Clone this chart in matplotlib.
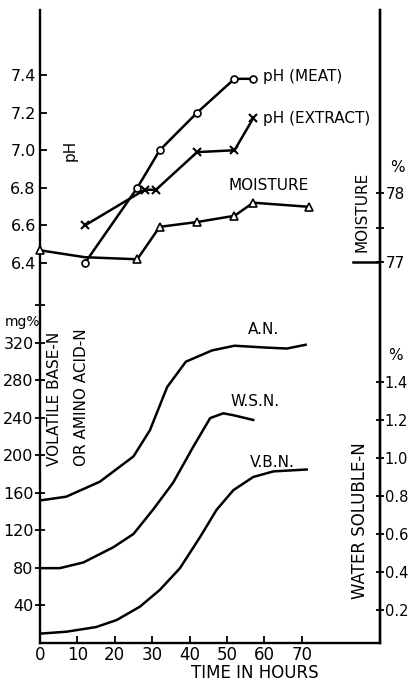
import matplotlib
matplotlib.use("Agg")
import matplotlib.pyplot as plt

# upper panel: pH and moisture
ph_hours = [12, 26, 32, 42, 52, 57]
ph_meat = [6.40, 6.80, 7.00, 7.20, 7.38, 7.38]
ext_hours = [12, 28, 31, 42, 52, 57]
ph_extract = [6.60, 6.79, 6.79, 6.99, 7.00, 7.17]
moist_hours = [0, 12, 26, 32, 42, 52, 57, 72]
moisture = [77.17, 77.07, 77.04, 77.51, 77.58, 77.67, 77.86, 77.80]

# lower panel: nitrogen (mg%) and water soluble-N (%)
an_hours = [0, 7, 16, 25, 29.4, 34, 39, 46, 52, 60.5, 66, 71]
an_vals = [152, 156, 172, 199, 227, 273, 300, 312, 317, 315, 314, 318]
wsn_hours = [0, 5.3, 11.6, 19.6, 25, 30.3, 35.6, 41, 45.5, 49, 51.7, 57]
wsn_vals = [0.42, 0.42, 0.45, 0.53, 0.60, 0.73, 0.87, 1.06, 1.21, 1.235, 1.225, 1.20]
vbn_hours = [0, 7, 15, 20.5, 26.7, 32, 37.4, 42.8, 47.2, 51.7, 57, 62.4, 71.3]
vbn_vals = [10, 12, 17, 24.5, 38.7, 56.5, 79.7, 113, 142, 163, 177, 183, 185]

x_ticks = [0, 10, 20, 30, 40, 50, 60, 70]
mg_ticks = [40, 80, 120, 160, 200, 240, 280, 320, 360]
wsn_ticks = [0.2, 0.4, 0.6, 0.8, 1.0, 1.2, 1.4]
ph_ticks = [6.4, 6.6, 6.8, 7.0, 7.2, 7.4]
moist_ticks = [77, 77.5, 78]

plt.rcParams['font.family'] = ['DejaVu Sans']
fig = plt.figure(figsize=(4.1, 6.86), dpi=100)
rect = [40 / 410, 43 / 686, 340 / 410, 633 / 686]
LW = 1.8

# main axes (mg%)
ax = fig.add_axes(rect)
ax.set_xlim(0, 90.9)
ax.set_ylim(0, 675)
for s in ['left', 'bottom', 'right']:
    ax.spines[s].set_linewidth(1.7)
ax.spines['top'].set_visible(False)
ax.set_xticks(x_ticks)
ax.set_xticklabels([str(t) for t in x_ticks], fontsize=12)
ax.set_yticks(mg_ticks)
ax.set_yticklabels([str(t) if t <= 320 else '' for t in mg_ticks], fontsize=11.5)
ax.tick_params(axis='x', direction='in', length=5, width=1.3, pad=2)
ax.tick_params(axis='y', direction='inout', length=7, width=1.3, pad=1)

ax.plot(an_hours, an_vals, color='black', lw=LW)
ax.plot(vbn_hours, vbn_vals, color='black', lw=LW)

# water soluble-N axis on the right
ax_w = ax.twinx()
ax_w.set_ylim(0.026, 3.358)
for s in ['left', 'bottom', 'top']:
    ax_w.spines[s].set_visible(False)
ax_w.spines['right'].set_linewidth(1.7)
ax_w.set_yticks(wsn_ticks)
ax_w.set_yticklabels([f'{t:.1f}' for t in wsn_ticks], fontsize=10.5)
ax_w.tick_params(axis='y', direction='inout', length=6, width=1.3, pad=0.5)
ax_w.plot(wsn_hours, wsn_vals, color='black', lw=LW)

# pH axis (upper panel, left)
ax_ph = fig.add_axes(rect)
ax_ph.patch.set_visible(False)
ax_ph.set_xlim(0, 90.9)
ax_ph.set_ylim(4.379, 7.746)
for s in ax_ph.spines.values():
    s.set_visible(False)
ax_ph.set_xticks([])
ax_ph.set_yticks(ph_ticks)
ax_ph.set_yticklabels([f'{t:.1f}' for t in ph_ticks], fontsize=11.5)
ax_ph.tick_params(axis='y', direction='in', length=5, width=1.3, pad=3)
ax_ph.plot(ph_hours, ph_meat, color='black', lw=LW, marker='o', ms=5,
           mfc='white', mec='black', mew=1.2)
ax_ph.plot(ext_hours, ph_extract, color='black', lw=LW, marker='x', ms=6,
           mew=1.5)

# moisture axis (upper panel, right)
ax_m = ax_ph.twinx()
ax_m.set_ylim(71.48, 80.652)
for s in ax_m.spines.values():
    s.set_visible(False)
ax_m.set_yticks(moist_ticks)
ax_m.set_yticklabels(['77', '', '78'], fontsize=11)
ax_m.tick_params(axis='y', direction='inout', length=6, width=1.3, pad=1)
ax_m.axhline(77, xmin=0.92, xmax=1.0, color='black', lw=1.8)
ax_m.plot(moist_hours, moisture, color='black', lw=LW, marker='^', ms=6,
          mfc='white', mec='black', mew=1.2, markevery=[0, 2, 3, 4, 5, 6, 7],
          clip_on=False)

# labels
kw = dict(fontsize=11, color='black')
ax_ph.text(59.6, 7.39, 'pH (MEAT)', ha='left', va='center', **kw)
ax_ph.text(59.6, 7.17, 'pH (EXTRACT)', ha='left', va='center', **kw)
ax_ph.text(50.3, 6.81, 'MOISTURE', ha='left', va='center', **kw)
ax_ph.text(8.0, 7.0, 'pH', rotation=90, ha='center', va='center', **kw)
ax_ph.text(86.1, 6.67, 'MOISTURE', rotation=90, ha='center', va='center', **kw)
ax_ph.text(95.5, 6.91, '%', ha='center', va='center', clip_on=False, **kw)

ax.text(55.6, 334, 'A.N.', ha='left', va='center', **kw)
ax.text(50.8, 257, 'W.S.N.', ha='left', va='center', **kw)
ax.text(56.1, 193, 'V.B.N.', ha='left', va='center', **kw)
ax.text(4.0, 260, 'VOLATILE BASE-N', rotation=90, ha='center', va='center', **kw)
ax.text(11.2, 262, 'OR AMINO ACID-N', rotation=90, ha='center', va='center', **kw)
ax.text(85.6, 131, 'WATER SOLUBLE-N', rotation=90, ha='center', va='center',
        fontsize=12)
ax.text(95.0, 307, '%', ha='center', va='center', clip_on=False, **kw)
ax.text(-4.8, 342, 'mg%', ha='center', va='center', clip_on=False, fontsize=10)
ax.text(57.5, -32, 'TIME IN HOURS', ha='center', va='center', clip_on=False,
        fontsize=12)

fig.savefig('out.png', dpi=100, facecolor='white')
